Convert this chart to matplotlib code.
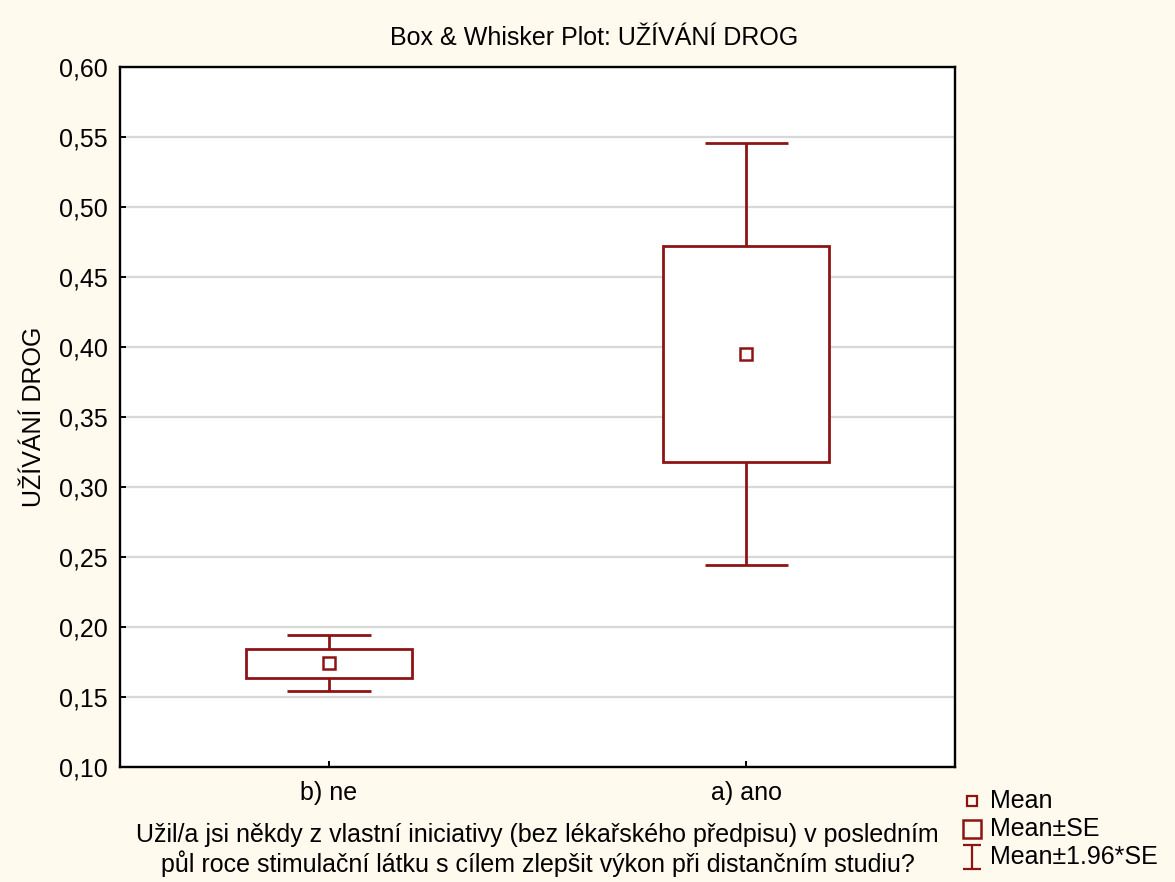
import matplotlib
matplotlib.use("Agg")
import matplotlib.pyplot as plt
from matplotlib.lines import Line2D
from matplotlib.ticker import FixedLocator, FuncFormatter
from matplotlib.path import Path
import numpy as np

# Group means and standard errors
categories = ["b) ne", "a) ano"]
means = [0.174, 0.395]
std_errs = [0.0102, 0.0768]
z = 1.96

title = "Box & Whisker Plot: UŽÍVÁNÍ DROG"
ylabel = "UŽÍVÁNÍ DROG"
xlabel = ("Užil/a jsi někdy z vlastní iniciativy (bez lékařského předpisu) v posledním\n"
          "půl roce stimulační látku s cílem zlepšit výkon při distančním studiu?")
yticks = [0.10, 0.15, 0.20, 0.25, 0.30, 0.35, 0.40, 0.45, 0.50, 0.55, 0.60]
legend_labels = ["Mean", "Mean±SE", "Mean±1.96*SE"]

RED = "#8E1414"
BG = "#FFF9EE"
FS = 18

plt.rcParams["font.family"] = ["Liberation Sans", "DejaVu Sans"]

W, H = 1175, 882
fig = plt.figure(figsize=(W / 100, H / 100), dpi=100, facecolor=BG)
ax = fig.add_axes([120 / W, 1 - 767 / H, (955 - 120) / W, 700 / H])
ax.set_facecolor("white")

x = np.arange(len(categories))
m = np.array(means)
se = np.array(std_errs)
box_w = 0.397
cap_w = 0.2
LW = 2.0

# whiskers (mean ± 1.96*SE)
ax.vlines(x, m - z * se, m + z * se, color=RED, lw=LW, zorder=2)
ax.hlines(m + z * se, x - cap_w / 2, x + cap_w / 2, color=RED, lw=LW, zorder=2)
ax.hlines(m - z * se, x - cap_w / 2, x + cap_w / 2, color=RED, lw=LW, zorder=2)
# boxes (mean ± SE)
ax.bar(x, 2 * se, bottom=m - se, width=box_w, facecolor="white",
       edgecolor=RED, linewidth=LW, zorder=3)
# mean markers
ax.plot(x, m, ls="none", marker="s", ms=9, mfc="white", mec=RED, mew=1.8, zorder=4)

ax.set_xlim(-0.5, 1.5)
ax.set_ylim(0.10, 0.60)
ax.yaxis.set_major_locator(FixedLocator(yticks))
ax.yaxis.set_major_formatter(FuncFormatter(lambda v, p: f"{v:.2f}".replace(".", ",")))
ax.set_xticks(x)
ax.set_xticklabels(categories)
ax.tick_params(axis="y", direction="in", length=4, width=1.4, pad=9, labelsize=FS)
ax.tick_params(axis="x", direction="in", length=4, width=1.4, pad=10, labelsize=FS)
ax.grid(axis="y", color="#D8D8D8", lw=1.6, zorder=0)
ax.set_axisbelow(True)
for s in ax.spines.values():
    s.set_linewidth(1.7)
    s.set_color("black")

ax.set_ylabel(ylabel, fontsize=FS, labelpad=9)
ax.set_xlabel(xlabel, fontsize=FS, labelpad=13, linespacing=1.15)
fig.text(594 / W, 1 - 38 / H, title, ha="center", va="center", fontsize=FS)

# legend drawn in figure pixel coordinates
def fx(px):
    return px / W

def fy(py):
    return 1 - py / H

ibar = Path([(-0.75, -1), (0.75, -1), (0, -1), (0, 1), (-0.75, 1), (0.75, 1)],
            [Path.MOVETO, Path.LINETO, Path.MOVETO, Path.LINETO, Path.MOVETO, Path.LINETO])
legend_y = [801, 829, 857]
handles = [
    dict(marker="s", ms=7, mew=1.6),
    dict(marker="s", ms=13, mew=1.8),
    dict(marker=ibar, ms=17, mew=1.6),
]
for yy, lab, h in zip(legend_y, legend_labels, handles):
    fig.add_artist(Line2D([fx(972)], [fy(yy)], ls="none", mfc="none", mec=RED,
                          color=RED, transform=fig.transFigure, **h))
    fig.text(fx(990), fy(yy), lab, ha="left", va="center", fontsize=FS)

fig.savefig("out.png", dpi=100, facecolor=BG)
